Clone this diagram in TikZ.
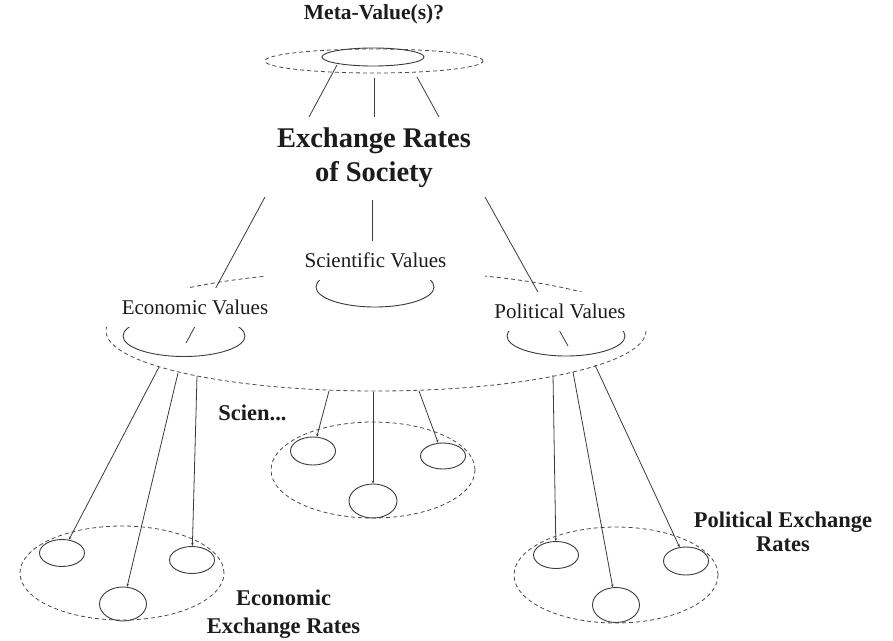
\documentclass[tikz,border=0pt]{standalone}
\usepackage{fontspec}
\setmainfont{Liberation Serif}
\usetikzlibrary{shapes.geometric,arrows.meta}
\definecolor{ink}{HTML}{1C1C1C}
\definecolor{ln}{HTML}{3A3A3A}
\definecolor{dsh}{HTML}{4A4A4A}
\tikzset{
  ell/.style={ellipse,draw=ln,line width=0.9pt,inner sep=0pt},
  dell/.style={ellipse,draw=dsh,line width=0.8pt,dash pattern=on 4pt off 3pt,inner sep=0pt},
  conn/.style={draw=ln,line width=0.8pt},
  tconn/.style={conn,-{Stealth[length=3pt,width=2.5pt]}},
  vlabel/.style={fill=white,text=ink,font=\fontsize{21}{24}\selectfont,minimum width=219pt,minimum height=39pt,inner sep=0pt},
  blabel/.style={text=ink,font=\fontsize{22.5}{24}\selectfont\bfseries,align=center,inner sep=0pt}
}
\begin{document}
\begin{tikzpicture}[x=1pt,y=-1pt]
\useasboundingbox (0,0) rectangle (893,640);
% top
\node[blabel,font=\fontsize{21.5}{24}\selectfont\bfseries] (meta) at (374,14) {Meta-Value(s)?};
\node[dell,minimum width=218pt,minimum height=24pt] (metaO) at (374,61) {};
\node[ell,minimum width=102pt,minimum height=18pt] (metaI) at (373,57) {};
\node[fill=white,text=ink,font=\fontsize{28.5}{34}\selectfont\bfseries,align=center,minimum width=222pt,minimum height=80pt,inner sep=0pt] (exr) at (374,158) {Exchange Rates\\of Society};
\coordinate (t1a) at (337,65); \coordinate (t1b) at (309,117);
\coordinate (t2a) at (374,78); \coordinate (t2b) at (374,117);
\coordinate (t3a) at (417,77); \coordinate (t3b) at (439,117);
\draw[conn] (t1a) -- (t1b);
\draw[conn] (t2a) -- (t2b);
\draw[conn] (t3a) -- (t3b);
% middle big dashed ellipse and value ellipses
\node[dell,minimum width=540pt,minimum height=120pt] (big) at (376,331) {};
\node[ell,minimum width=122pt,minimum height=41pt] (ecoE) at (184,336) {};
\node[ell,minimum width=118pt,minimum height=40pt] (sciE) at (375,287) {};
\node[ell,minimum width=118pt,minimum height=40pt] (polE) at (566,336) {};
\coordinate (x1) at (265,197); \coordinate (x1e) at (186,343);
\coordinate (x2) at (372,200); \coordinate (x2e) at (372,245);
\coordinate (x3) at (485,197); \coordinate (x3e) at (568,346);
\draw[conn] (x1) -- (x1e);
\draw[conn] (x2) -- (x2e);
\draw[conn] (x3) -- (x3e);
\node[vlabel] (ecoL) at (195,307.5) {Economic Values};
\node[vlabel] (sciL) at (375.5,260) {Scientific Values};
\node[vlabel] (polL) at (560,311.5) {Political Values};
% bottom groups
\node[dell,minimum width=204pt,minimum height=94pt] (gL) at (122,573) {};
\node[dell,minimum width=204pt,minimum height=96pt] (gM) at (373,470) {};
\node[dell,minimum width=204pt,minimum height=96pt] (gR) at (616,575) {};
\node[ell,minimum width=45pt,minimum height=27pt] (La) at (62,553) {};
\node[ell,minimum width=47pt,minimum height=34pt] (Lb) at (123,604) {};
\node[ell,minimum width=45pt,minimum height=27pt] (Lc) at (192,560) {};
\node[ell,minimum width=45pt,minimum height=28pt] (Ma) at (313,451) {};
\node[ell,minimum width=48pt,minimum height=34pt] (Mb) at (373,501) {};
\node[ell,minimum width=45pt,minimum height=26pt] (Mc) at (443,456) {};
\node[ell,minimum width=45pt,minimum height=27pt] (Ra) at (556,555) {};
\node[ell,minimum width=47pt,minimum height=35pt] (Rb) at (616,605) {};
\node[ell,minimum width=45pt,minimum height=28pt] (Rc) at (686,561) {};
\coordinate (l1) at (159,367); \coordinate (l2) at (178,373); \coordinate (l3) at (197,376);
\coordinate (m1) at (329,391); \coordinate (m2) at (373,392); \coordinate (m3) at (419,391);
\coordinate (r1) at (553,375); \coordinate (r2) at (573,372); \coordinate (r3) at (595,365);
\draw[tconn] (l1) -- (La);
\draw[tconn] (l2) -- (Lb);
\draw[tconn] (l3) -- (Lc);
\draw[tconn] (m1) -- (Ma);
\draw[tconn] (m2) -- (Mb);
\draw[tconn] (m3) -- (Mc);
\draw[tconn] (r1) -- (Ra);
\draw[tconn] (r2) -- (Rb);
\draw[tconn] (r3) -- (Rc);
\node[blabel] (sciT) at (252.5,413) {Scien...};
\node[blabel,font=\fontsize{22.5}{28}\selectfont\bfseries] (ecoT) at (283.5,614) {Economic\\Exchange Rates};
\node[blabel,font=\fontsize{22.5}{24.5}\selectfont\bfseries] (polT) at (783,532) {Political Exchange\\Rates};
\end{tikzpicture}
\end{document}
